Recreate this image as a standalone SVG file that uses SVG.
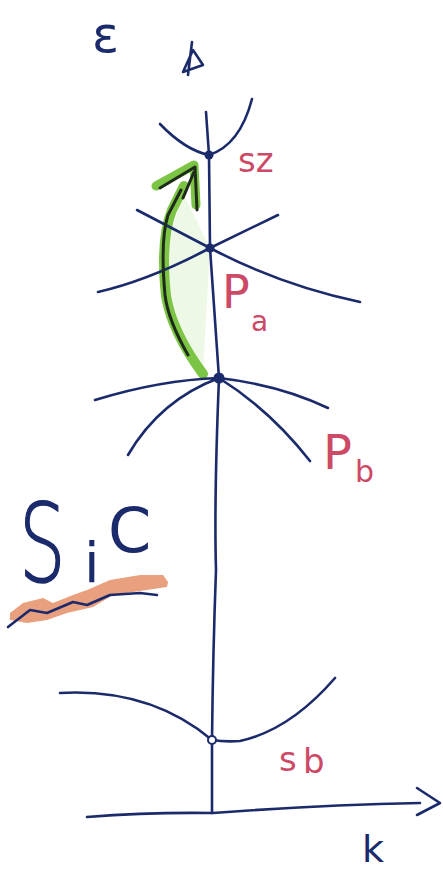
<svg xmlns="http://www.w3.org/2000/svg" width="443" height="874" viewBox="0 0 443 874">
<style>
.ln{fill:none;stroke:#1b2a6b;stroke-width:2.6;stroke-linecap:round;stroke-linejoin:round}
.lbl{font-family:"DejaVu Sans",sans-serif;fill:#cc4a66}
.blue{font-family:"DejaVu Sans",sans-serif;fill:#1b2a6b}
.dot{fill:#1b2a6b}
</style>
<rect width="443" height="874" fill="#ffffff"/>
<g id="axes">
<text class="blue" x="92" y="52" font-size="50">ε</text>
<path class="ln" d="M192,42 L188,75 M183,72 L203,65 L193,50 Z"/>
<path class="ln" d="M87,817 Q150,812 213,813 Q320,805 420,803"/>
<path class="ln" d="M417,788 L440,803 L417,815"/>
<text class="blue" x="362" y="862" font-size="38">k</text>
</g>
<g id="highlight">
<path d="M184,195 Q160,250 167,320 Q180,355 203,373 L210,248 Z" fill="#eef8e6"/>
<path d="M203,374 Q172,332 166,296 Q160,240 172,210 L184,186" fill="none" stroke="#7cc444" stroke-width="10" stroke-linecap="round"/>
<path d="M156,186 L194,165 L196,205" fill="none" stroke="#7cc444" stroke-width="9" stroke-linecap="round" stroke-linejoin="round"/>
</g>
<g id="connectors">
<path class="ln" d="M206,112 L209,155 L210,248 L219,378 Q214,500 216,570 Q213,650 212,740 L212,813"/>
<path class="ln" d="M160,124 Q185,150 209,155 M252,99 Q240,145 209,155"/>
<path class="ln" d="M137,210 L210,248 Q280,285 360,302 M278,215 L210,248 Q150,280 98,292"/>
<path class="ln" d="M95,400 Q160,380 219,378 Q280,385 328,408 M219,378 Q160,400 128,455 M219,378 Q270,410 310,461"/>
<path class="ln" d="M60,693 Q150,688 212,740 Q225,742 240,741 Q290,730 335,678"/>
<path d="M188,355 Q168,320 165,295 Q160,240 168,215 L181,190 M160,188 L195,167 L197,210 M183,198 L194,172" fill="none" stroke="#1e2a1a" stroke-width="3" stroke-linecap="round" stroke-linejoin="round"/>
</g>
<g id="s2">
<circle class="dot" cx="209" cy="155" r="4.5"/>
<text class="lbl" x="238" y="172" font-size="34">sz</text>
</g>
<g id="Pa">
<circle class="dot" cx="210" cy="248" r="4.5"/>
<text class="lbl" x="222" y="308" font-size="46">P</text>
<text class="lbl" x="251" y="331" font-size="28">a</text>
</g>
<g id="Pb">
<circle class="dot" cx="219" cy="378" r="5.5"/>
<text class="lbl" x="323" y="469" font-size="48">P</text>
<text class="lbl" x="355" y="482" font-size="30">b</text>
</g>
<g id="sb">
<circle cx="212" cy="740" r="4" fill="#ffffff" stroke="#1b2a6b" stroke-width="2"/>
<text class="lbl" x="279" y="771" font-size="34">s</text>
<text class="lbl" x="303" y="773" font-size="34">b</text>
</g>
<g id="SiC">
<path d="M10,613 L23,603 L43,598 L53,603 L73,595 L87,590 L110,580 L140,575 L163,575 L168,582 L167,587 L133,592 L113,595 L93,607 L67,613 L47,620 L27,623 L10,620 Z" fill="#e9a07e"/>
<path d="M8,627 L30,610 L47,613 L73,602 L87,605 L110,595 L140,593 L157,595" fill="none" stroke="#1b2a6b" stroke-width="2.6" stroke-linecap="round" stroke-linejoin="round"/>
<text class="blue" transform="translate(19,581) scale(0.68,1)" font-size="108" font-weight="200" stroke="#1b2a6b" stroke-width="1.6">S</text>
<text class="blue" x="84" y="582" font-size="56">i</text>
<text class="blue" x="108" y="552" font-size="62">C</text>
</g>
</svg>
